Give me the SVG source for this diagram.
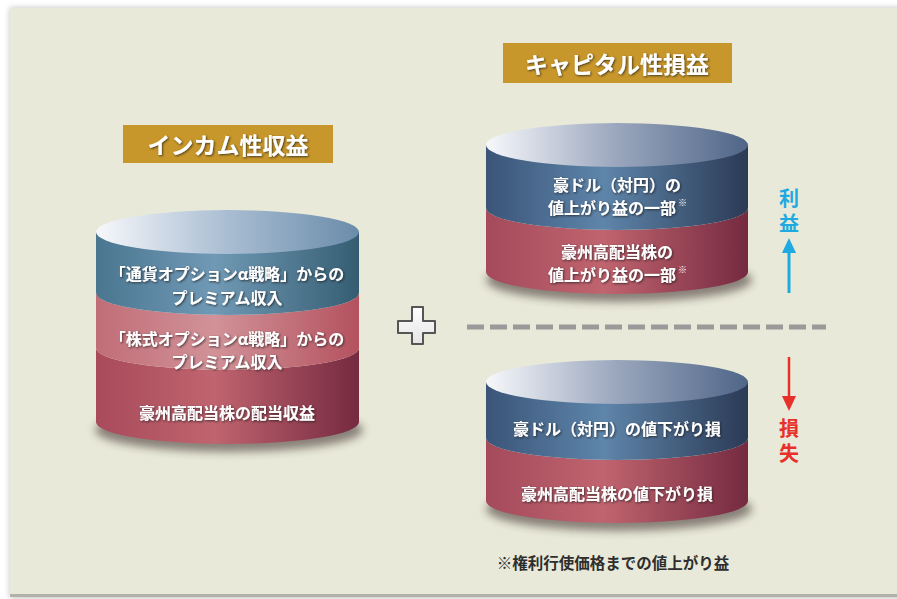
<svg xmlns="http://www.w3.org/2000/svg" width="897" height="599" viewBox="0 0 897 599">
<defs>
<linearGradient id="topL" x1="0" x2="1" y1="0" y2="0"><stop offset="0" stop-color="#f7f8fb"/><stop offset="0.5" stop-color="#a9bdd2"/><stop offset="1" stop-color="#6a8cab"/></linearGradient>
<linearGradient id="topR" x1="0" x2="1" y1="0" y2="0"><stop offset="0" stop-color="#f7f8fb"/><stop offset="0.5" stop-color="#9aa6bd"/><stop offset="1" stop-color="#4f6688"/></linearGradient>
<linearGradient id="blueL" x1="0" x2="1" y1="0" y2="0"><stop offset="0" stop-color="#4a7690"/><stop offset="0.45" stop-color="#7099b5"/><stop offset="1" stop-color="#355d72"/></linearGradient>
<linearGradient id="pinkL" x1="0" x2="1" y1="0" y2="0"><stop offset="0" stop-color="#c16d77"/><stop offset="0.45" stop-color="#d19298"/><stop offset="1" stop-color="#b4525f"/></linearGradient>
<linearGradient id="darkL" x1="0" x2="1" y1="0" y2="0"><stop offset="0" stop-color="#a84a5a"/><stop offset="0.45" stop-color="#c0646f"/><stop offset="1" stop-color="#752a40"/></linearGradient>
<linearGradient id="blueR" x1="0" x2="1" y1="0" y2="0"><stop offset="0" stop-color="#3a5578"/><stop offset="0.45" stop-color="#5e85aa"/><stop offset="1" stop-color="#2b3a55"/></linearGradient>
<linearGradient id="pinkR" x1="0" x2="1" y1="0" y2="0"><stop offset="0" stop-color="#a44a5b"/><stop offset="0.45" stop-color="#c0646f"/><stop offset="1" stop-color="#752a40"/></linearGradient>
<linearGradient id="plusG" x1="0" x2="0" y1="0" y2="1"><stop offset="0" stop-color="#ffffff"/><stop offset="1" stop-color="#e4e4e4"/></linearGradient>
<filter id="ts" x="-10%" y="-30%" width="120%" height="160%"><feDropShadow dx="1" dy="1" stdDeviation="0.8" flood-color="#1a1a1a" flood-opacity="0.75"/></filter>
<filter id="blur" x="-20%" y="-50%" width="140%" height="200%"><feGaussianBlur stdDeviation="4"/></filter>
<filter id="pshadow" x="-5%" y="-5%" width="110%" height="110%"><feGaussianBlur stdDeviation="3"/></filter>
</defs>
<style>
.title{font-family:"Noto Sans CJK JP","Noto Sans",sans-serif;font-weight:bold;font-size:23px;fill:#ffffff;text-anchor:middle;dominant-baseline:central;filter:url(#ts)}
.lbl{font-family:"Noto Sans CJK JP","Noto Sans",sans-serif;font-weight:bold;font-size:16px;fill:#ffffff;text-anchor:middle;dominant-baseline:central;filter:url(#ts)}
.mark{font-family:"Noto Sans CJK JP","Noto Sans",sans-serif;font-size:9px;fill:#ffffff;dominant-baseline:central}
.note{font-family:"Noto Sans CJK JP","Noto Sans",sans-serif;font-weight:bold;font-size:15.5px;fill:#2e2e2e;text-anchor:middle;dominant-baseline:central}
.side{font-family:"Noto Sans CJK JP","Noto Sans",sans-serif;font-weight:bold;font-size:20px;text-anchor:start;writing-mode:vertical-rl;letter-spacing:5px}
.tbox{fill:#c8972b}
</style>
<rect x="0" y="0" width="897" height="599" fill="#ffffff"/>
<rect x="10" y="8" width="900" height="590" fill="#000" opacity="0.25" filter="url(#pshadow)"/>
<rect x="10" y="8" width="890" height="588" fill="#e8e9d8"/>
<rect x="10" y="594" width="890" height="3" fill="#b0b2a8"/>

<g id="title-income">
<rect class="tbox" x="123" y="125" width="210" height="38"/>
<text class="title" x="228" y="144">インカム性収益</text>
</g>
<g id="title-capital">
<rect class="tbox" x="503" y="43" width="229" height="40"/>
<text class="title" x="617" y="63">キャピタル性損益</text>
</g>

<g id="cyl-income">
<ellipse cx="229" cy="430" rx="134" ry="22" fill="#3a2a2a" opacity="0.55" filter="url(#blur)"/>
<path d="M96,348 A131.5,22 0 0 0 359,348 L359,422 A131.5,22 0 0 1 96,422 Z" fill="url(#darkL)"/>
<path d="M96,293 A131.5,22 0 0 0 359,293 L359,348 A131.5,22 0 0 1 96,348 Z" fill="url(#pinkL)"/>
<path d="M96,232 L359,232 L359,293 A131.5,22 0 0 1 96,293 Z" fill="url(#blueL)"/>
<ellipse cx="227.5" cy="232" rx="131.5" ry="22" fill="url(#topL)"/>
<text class="lbl" x="227" y="273">「通貨オプションα戦略」からの</text>
<text class="lbl" x="227" y="296.5">プレミアム収入</text>
<text class="lbl" x="227" y="337.5">「株式オプションα戦略」からの</text>
<text class="lbl" x="227" y="361">プレミアム収入</text>
<text class="lbl" x="227" y="412">豪州高配当株の配当収益</text>
</g>

<g id="cyl-gain">
<ellipse cx="619" cy="280" rx="133" ry="22" fill="#3a2a2a" opacity="0.55" filter="url(#blur)"/>
<path d="M486,208 A131,22 0 0 0 748,208 L748,272 A131,22 0 0 1 486,272 Z" fill="url(#pinkR)"/>
<path d="M486,145 L748,145 L748,208 A131,22 0 0 1 486,208 Z" fill="url(#blueR)"/>
<ellipse cx="617" cy="145" rx="131" ry="22" fill="url(#topR)"/>
<text class="lbl" x="617" y="183.5">豪ドル（対円）の</text>
<text class="lbl" x="612" y="207">値上がり益の一部</text>
<text class="mark" x="678" y="202">※</text>
<text class="lbl" x="617" y="250.5">豪州高配当株の</text>
<text class="lbl" x="612" y="274">値上がり益の一部</text>
<text class="mark" x="678" y="269">※</text>
</g>

<g id="cyl-loss">
<ellipse cx="619" cy="509" rx="133" ry="22" fill="#3a2a2a" opacity="0.55" filter="url(#blur)"/>
<path d="M486,438 A131,22 0 0 0 748,438 L748,501 A131,22 0 0 1 486,501 Z" fill="url(#pinkR)"/>
<path d="M486,382 L748,382 L748,438 A131,22 0 0 1 486,438 Z" fill="url(#blueR)"/>
<ellipse cx="617" cy="382" rx="131" ry="22" fill="url(#topR)"/>
<text class="lbl" x="617" y="428">豪ドル（対円）の値下がり損</text>
<text class="lbl" x="617" y="493">豪州高配当株の値下がり損</text>
</g>

<g id="plus">
<path d="M412,307 H423 V321 H435 V333 H423 V344 H412 V333 H398 V321 H412 Z" fill="url(#plusG)" stroke="#555555" stroke-width="2" stroke-linejoin="round"/>
</g>

<g id="connectors">
<line x1="467" y1="327" x2="826" y2="327" stroke="#9a9a9a" stroke-width="5" stroke-dasharray="17 6"/>
<line x1="789" y1="293" x2="789" y2="252" stroke="#1ea9e1" stroke-width="3"/>
<path d="M782,253 L789,238 L796,253 Z" fill="#1ea9e1"/>
<line x1="789" y1="357" x2="789" y2="397" stroke="#e8302a" stroke-width="2.5"/>
<path d="M782,396 L796,396 L789,411 Z" fill="#e8302a"/>
</g>

<g id="label-profit">
<text class="side" x="789" y="188" fill="#1ea9e1">利益</text>
</g>
<g id="label-loss">
<text class="side" x="789" y="418" fill="#e8302a">損失</text>
</g>

<g id="footnote">
<text class="note" x="613" y="562">※権利行使価格までの値上がり益</text>
</g>
</svg>
